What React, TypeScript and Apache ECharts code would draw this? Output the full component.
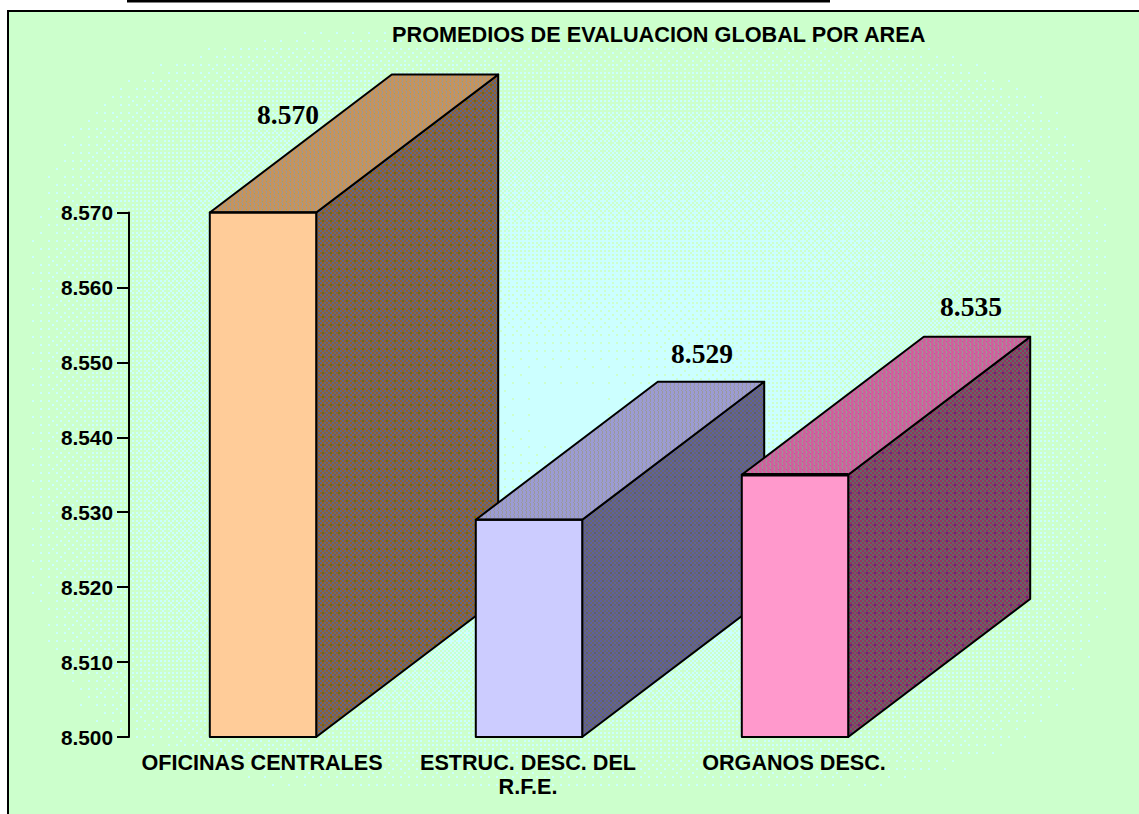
import React, { useEffect, useRef } from "react";
import * as echarts from "echarts";

const titleText = "PROMEDIOS DE EVALUACION GLOBAL POR AREA";
const categories = ["OFICINAS CENTRALES", "ESTRUC. DESC. DEL\nR.F.E.", "ORGANOS DESC."];
const values = [8.57, 8.529, 8.535];
const yTicks = [8.5, 8.51, 8.52, 8.53, 8.54, 8.55, 8.56, 8.57];

const frontColors = ["#FFCC99", "#CCCCFF", "#FF99CC"];
const topDither = [
  ["#C8935A", "#999999", "#99A066"],
  ["#9C9CD4", "#999999", "#9999AA"],
  ["#D05F9C", "#999999", "#AA6699"],
];
const sideDither = [
  ["#965F28", "#5E6886", "#5E682C"],
  ["#5F5FA0", "#686868", "#606060"],
  ["#963060", "#606868", "#5A3278"],
];
const topEdgeWidths = [2, 2, 3.5];
const labelOffsets = [[25, -98], [173, -166], [176, -168]];
const BAR_SHIFT = 1;
const DEPTH_X = 182;
const DEPTH_Y = -138;

const sideRows = ["AABBAABB", "AABBAABB", "BBAABBAA", "BBAABBAA", "AACCAABB", "AACCAABB", "BBAABBAA", "BBAABBAA"];
const topRows = ["AABAAABA", "AABAAACA", "ABAAABAA", "AABAAABA", "AABAAABA", "AACAAABA", "ABAAABAA", "AABAAABA"];

function makeTile(rows: string[], colors: string[]) {
  const c = document.createElement("canvas");
  c.width = rows[0].length;
  c.height = rows.length;
  const g = c.getContext("2d")!;
  rows.forEach((row, y) => {
    for (let x = 0; x < row.length; x++) {
      g.fillStyle = colors["ABC".indexOf(row[x])];
      g.fillRect(x, y, 1, 1);
    }
  });
  return {
    image: c.toDataURL(),
    imageWidth: c.width,
    imageHeight: c.height,
    repeat: "repeat",
  };
}

// Ordered-dither backdrop: pale green with a pale cyan glow in the middle.
function makeBackdrop(w: number, h: number) {
  const bayer = [
    [0, 32, 8, 40, 2, 34, 10, 42],
    [48, 16, 56, 24, 50, 18, 58, 26],
    [12, 44, 4, 36, 14, 46, 6, 38],
    [60, 28, 52, 20, 62, 30, 54, 22],
    [3, 35, 11, 43, 1, 33, 9, 41],
    [51, 19, 59, 27, 49, 17, 57, 25],
    [15, 47, 7, 39, 13, 45, 5, 37],
    [63, 31, 55, 23, 61, 29, 53, 21],
  ];
  const c = document.createElement("canvas");
  c.width = w;
  c.height = h;
  const g = c.getContext("2d")!;
  g.fillStyle = "#CCFFCC";
  g.fillRect(0, 0, w, h);
  g.fillStyle = "#CCFFFF";
  for (let y = 0; y < h; y += 2) {
    for (let x = 0; x < w; x += 2) {
      const dx = Math.abs(x - 570) / 545;
      const dy = Math.abs(y - 410) / 385;
      const d = Math.pow(dx * dx * dx * dx + dy * dy * dy * dy, 0.25);
      const t = Math.max(0, 1 - Math.pow(d, 1.5));
      if (t * 64 > bayer[(y / 2) % 8][(x / 2) % 8]) g.fillRect(x, y, 2, 2);
    }
  }
  return c.toDataURL();
}

export default function App() {
  const ref = useRef<HTMLDivElement>(null);
  useEffect(() => {
    const chart = echarts.init(ref.current!, null, { renderer: "svg" });
    const topFills = topDither.map((c) => makeTile(topRows, c));
    const sideFills = sideDither.map((c) => makeTile(sideRows, c));
    chart.setOption({
      animation: false,
      backgroundColor: "#FFFFFF",
      title: {
        text: titleText,
        left: 392,
        top: 23,
        padding: 0,
        textStyle: { fontFamily: "Liberation Sans", fontWeight: "bold", fontSize: 21.7, color: "#000" },
      },
      graphic: [
        {
          type: "image",
          z: -11,
          silent: true,
          x: 0,
          y: 0,
          style: { image: makeBackdrop(1139, 814), x: 0, y: 0, width: 1139, height: 814 },
        },
        {
          type: "rect",
          z: -10,
          silent: true,
          shape: { x: 8, y: 11, width: 1150, height: 820 },
          style: { fill: "none", stroke: "#000", lineWidth: 2 },
        },
        {
          type: "rect",
          z: -10,
          silent: true,
          shape: { x: 0, y: 0, width: 1139, height: 10 },
          style: { fill: "#FFFFFF" },
        },
        {
          type: "rect",
          z: -10,
          silent: true,
          shape: { x: 0, y: 0, width: 7, height: 814 },
          style: { fill: "#FFFFFF" },
        },
        {
          type: "line",
          silent: true,
          shape: { x1: 127, y1: 1, x2: 830, y2: 1 },
          style: { stroke: "#000", lineWidth: 3 },
        },
      ],
      grid: { left: 129, top: 212.5, width: 798, height: 524.5, containLabel: false },
      xAxis: {
        type: "category",
        data: categories,
        axisLine: { show: false },
        axisTick: { show: false },
        axisLabel: {
          interval: 0,
          margin: 13,
          fontFamily: "Liberation Sans",
          fontWeight: "bold",
          fontSize: 21.6,
          lineHeight: 24,
          color: "#000",
        },
      },
      yAxis: {
        type: "value",
        min: yTicks[0],
        max: yTicks[yTicks.length - 1],
        interval: 0.01,
        splitLine: { show: false },
        axisLine: { show: true, onZero: false, lineStyle: { color: "#000", width: 2 } },
        axisTick: { show: true, length: 12, lineStyle: { color: "#000", width: 2 } },
        axisLabel: {
          margin: 16,
          formatter: (v: number) => v.toFixed(3),
          fontFamily: "Liberation Sans",
          fontWeight: "bold",
          fontSize: 20.8,
          color: "#000",
        },
      },
      series: [
        {
          type: "custom",
          clip: false,
          data: values.map((v, i) => [i, v]),
          encode: { x: 0, y: 1 },
          renderItem: (params: any, api: any) => {
            const i = api.value(0);
            const v = api.value(1);
            const [cx0, top] = api.coord([i, v]);
            const [, base] = api.coord([i, yTicks[0]]);
            const w = api.size([1, 0])[0] * 0.4;
            const cx = cx0 + BAR_SHIFT;
            const l = cx - w / 2;
            const r = cx + w / 2;
            const edge = { stroke: "#000", lineWidth: 2, lineJoin: "round" };
            return {
              type: "group",
              children: [
                {
                  type: "polygon",
                  shape: { points: [[r, top], [r + DEPTH_X, top + DEPTH_Y], [r + DEPTH_X, base + DEPTH_Y], [r, base]] },
                  style: { fill: sideFills[i], ...edge },
                },
                {
                  type: "polygon",
                  shape: { points: [[l, top], [l + DEPTH_X, top + DEPTH_Y], [r + DEPTH_X, top + DEPTH_Y], [r, top]] },
                  style: { fill: topFills[i], ...edge },
                },
                {
                  type: "rect",
                  shape: { x: l, y: top, width: w, height: base - top },
                  style: { fill: frontColors[i], ...edge },
                },
                {
                  type: "line",
                  shape: { x1: l, y1: top, x2: r, y2: top },
                  style: { stroke: "#000", lineWidth: topEdgeWidths[i] },
                },
                {
                  type: "text",
                  x: cx + labelOffsets[i][0],
                  y: top + labelOffsets[i][1],
                  style: {
                    text: v.toFixed(3),
                    fontFamily: "Liberation Serif",
                    fontWeight: "bold",
                    fontSize: 27.5,
                    fill: "#000",
                    textAlign: "center",
                    textVerticalAlign: "middle",
                  },
                },
              ],
            };
          },
        },
      ],
    });
    return () => chart.dispose();
  }, []);
  return <div ref={ref} style={{ position: "absolute", left: 0, top: 0, width: 1139, height: 814 }} />;
}
